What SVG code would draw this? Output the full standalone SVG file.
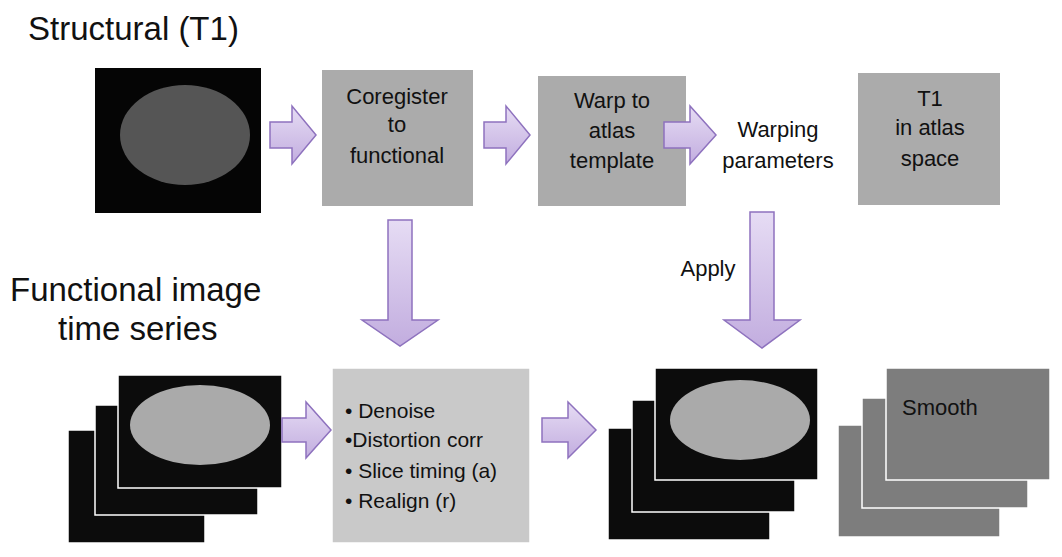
<svg xmlns="http://www.w3.org/2000/svg" width="1062" height="557" viewBox="0 0 1062 557">
<style>
.t{font-family:"Liberation Sans",Arial,sans-serif;fill:#111}
.big{font-size:33px}
.m{font-size:22px;text-anchor:middle}
.arr{fill:url(#pg);stroke:#8e72be;stroke-width:1.5}
.dk{fill:#0c0c0c;stroke:#fff;stroke-width:1.5}
.br{fill:#bdbdbd}
.gb{fill:#ababab}
.lg{fill:#c9c9c9;stroke:#fff;stroke-width:1.5}
.gs{fill:#7d7d7d;stroke:#fff;stroke-width:1.5}
</style>
<defs>
<linearGradient id="pg" x1="0" y1="0" x2="0" y2="1"><stop offset="0" stop-color="#e6dcf4"/><stop offset="1" stop-color="#c2addf"/></linearGradient>
</defs>
<rect width="1062" height="557" fill="#fff"/>
<text class="t big" x="28" y="40">Structural (T1)</text>
<text class="t big" x="10" y="301">Functional image</text>
<text class="t big" x="58" y="340">time series</text>
<g id="t1"><rect x="95" y="68" width="166" height="145" fill="#050505"/><ellipse cx="185" cy="135" rx="65" ry="50" fill="#555"/></g>
<g id="coreg"><rect x="322" y="70" width="151" height="136" class="gb"/><text class="t m" x="397" y="104">Coregister</text><text class="t m" x="397" y="132">to</text><text class="t m" x="397" y="163">functional</text></g>
<g id="warp"><rect x="538" y="76" width="148" height="130" class="gb"/><text class="t m" x="612" y="108">Warp to</text><text class="t m" x="612" y="138">atlas</text><text class="t m" x="612" y="168">template</text></g>
<g id="params"><text class="t m" x="778" y="137">Warping</text><text class="t m" x="778" y="168">parameters</text></g>
<g id="t1atlas"><rect x="858" y="73" width="142" height="132" class="gb"/><text class="t m" x="930" y="106">T1</text><text class="t m" x="930" y="135">in atlas</text><text class="t m" x="930" y="166">space</text></g>
<g id="func"><rect x="68" y="430" width="137" height="113" class="dk"/><rect x="95" y="405" width="163" height="110" class="dk"/><rect x="118" y="375" width="164" height="113" class="dk"/><ellipse cx="200" cy="425" rx="70" ry="40" fill="#aaa"/></g>
<g id="preproc"><rect x="332" y="368" width="198" height="175" class="lg"/>
<text class="t" style="font-size:21px" x="345" y="418">• Denoise</text>
<text class="t" style="font-size:21px" x="345" y="447">•Distortion corr</text>
<text class="t" style="font-size:21px" x="345" y="478">• Slice timing (a)</text>
<text class="t" style="font-size:21px" x="345" y="508">• Realign (r)</text></g>
<g id="warped"><rect x="608" y="428" width="162" height="112" class="dk"/><rect x="632" y="400" width="163" height="112" class="dk"/><rect x="655" y="368" width="163" height="112" class="dk"/><ellipse cx="740" cy="420" rx="70" ry="40" fill="#aaa"/></g>
<g id="smooth"><rect x="838" y="425" width="162" height="112" class="gs"/><rect x="862" y="398" width="166" height="110" class="gs"/><rect x="886" y="368" width="164" height="112" class="gs"/><text class="t" style="font-size:22px" x="902" y="415">Smooth</text></g>
<g id="connectors">
<polygon class="arr" points="270,122 292,122 292,106 316,135 292,164 292,148 270,148"/>
<polygon class="arr" points="484,122 506,122 506,106 530,135 506,164 506,148 484,148"/>
<polygon class="arr" points="664,122 690,122 690,106 716,135 690,164 690,148 664,148"/>
<polygon class="arr" points="282,418 306,418 306,402 331,430 306,458 306,442 282,442"/>
<polygon class="arr" points="542,418 568,418 568,402 596,430 568,458 568,442 542,442"/>
<polygon class="arr" points="388,220 412,220 412,320 438,320 400,346 362,320 388,320"/>
<polygon class="arr" points="750,212 774,212 774,320 800,320 762,348 724,320 750,320"/>
<text class="t m" x="708" y="276">Apply</text>
</g>
</svg>
